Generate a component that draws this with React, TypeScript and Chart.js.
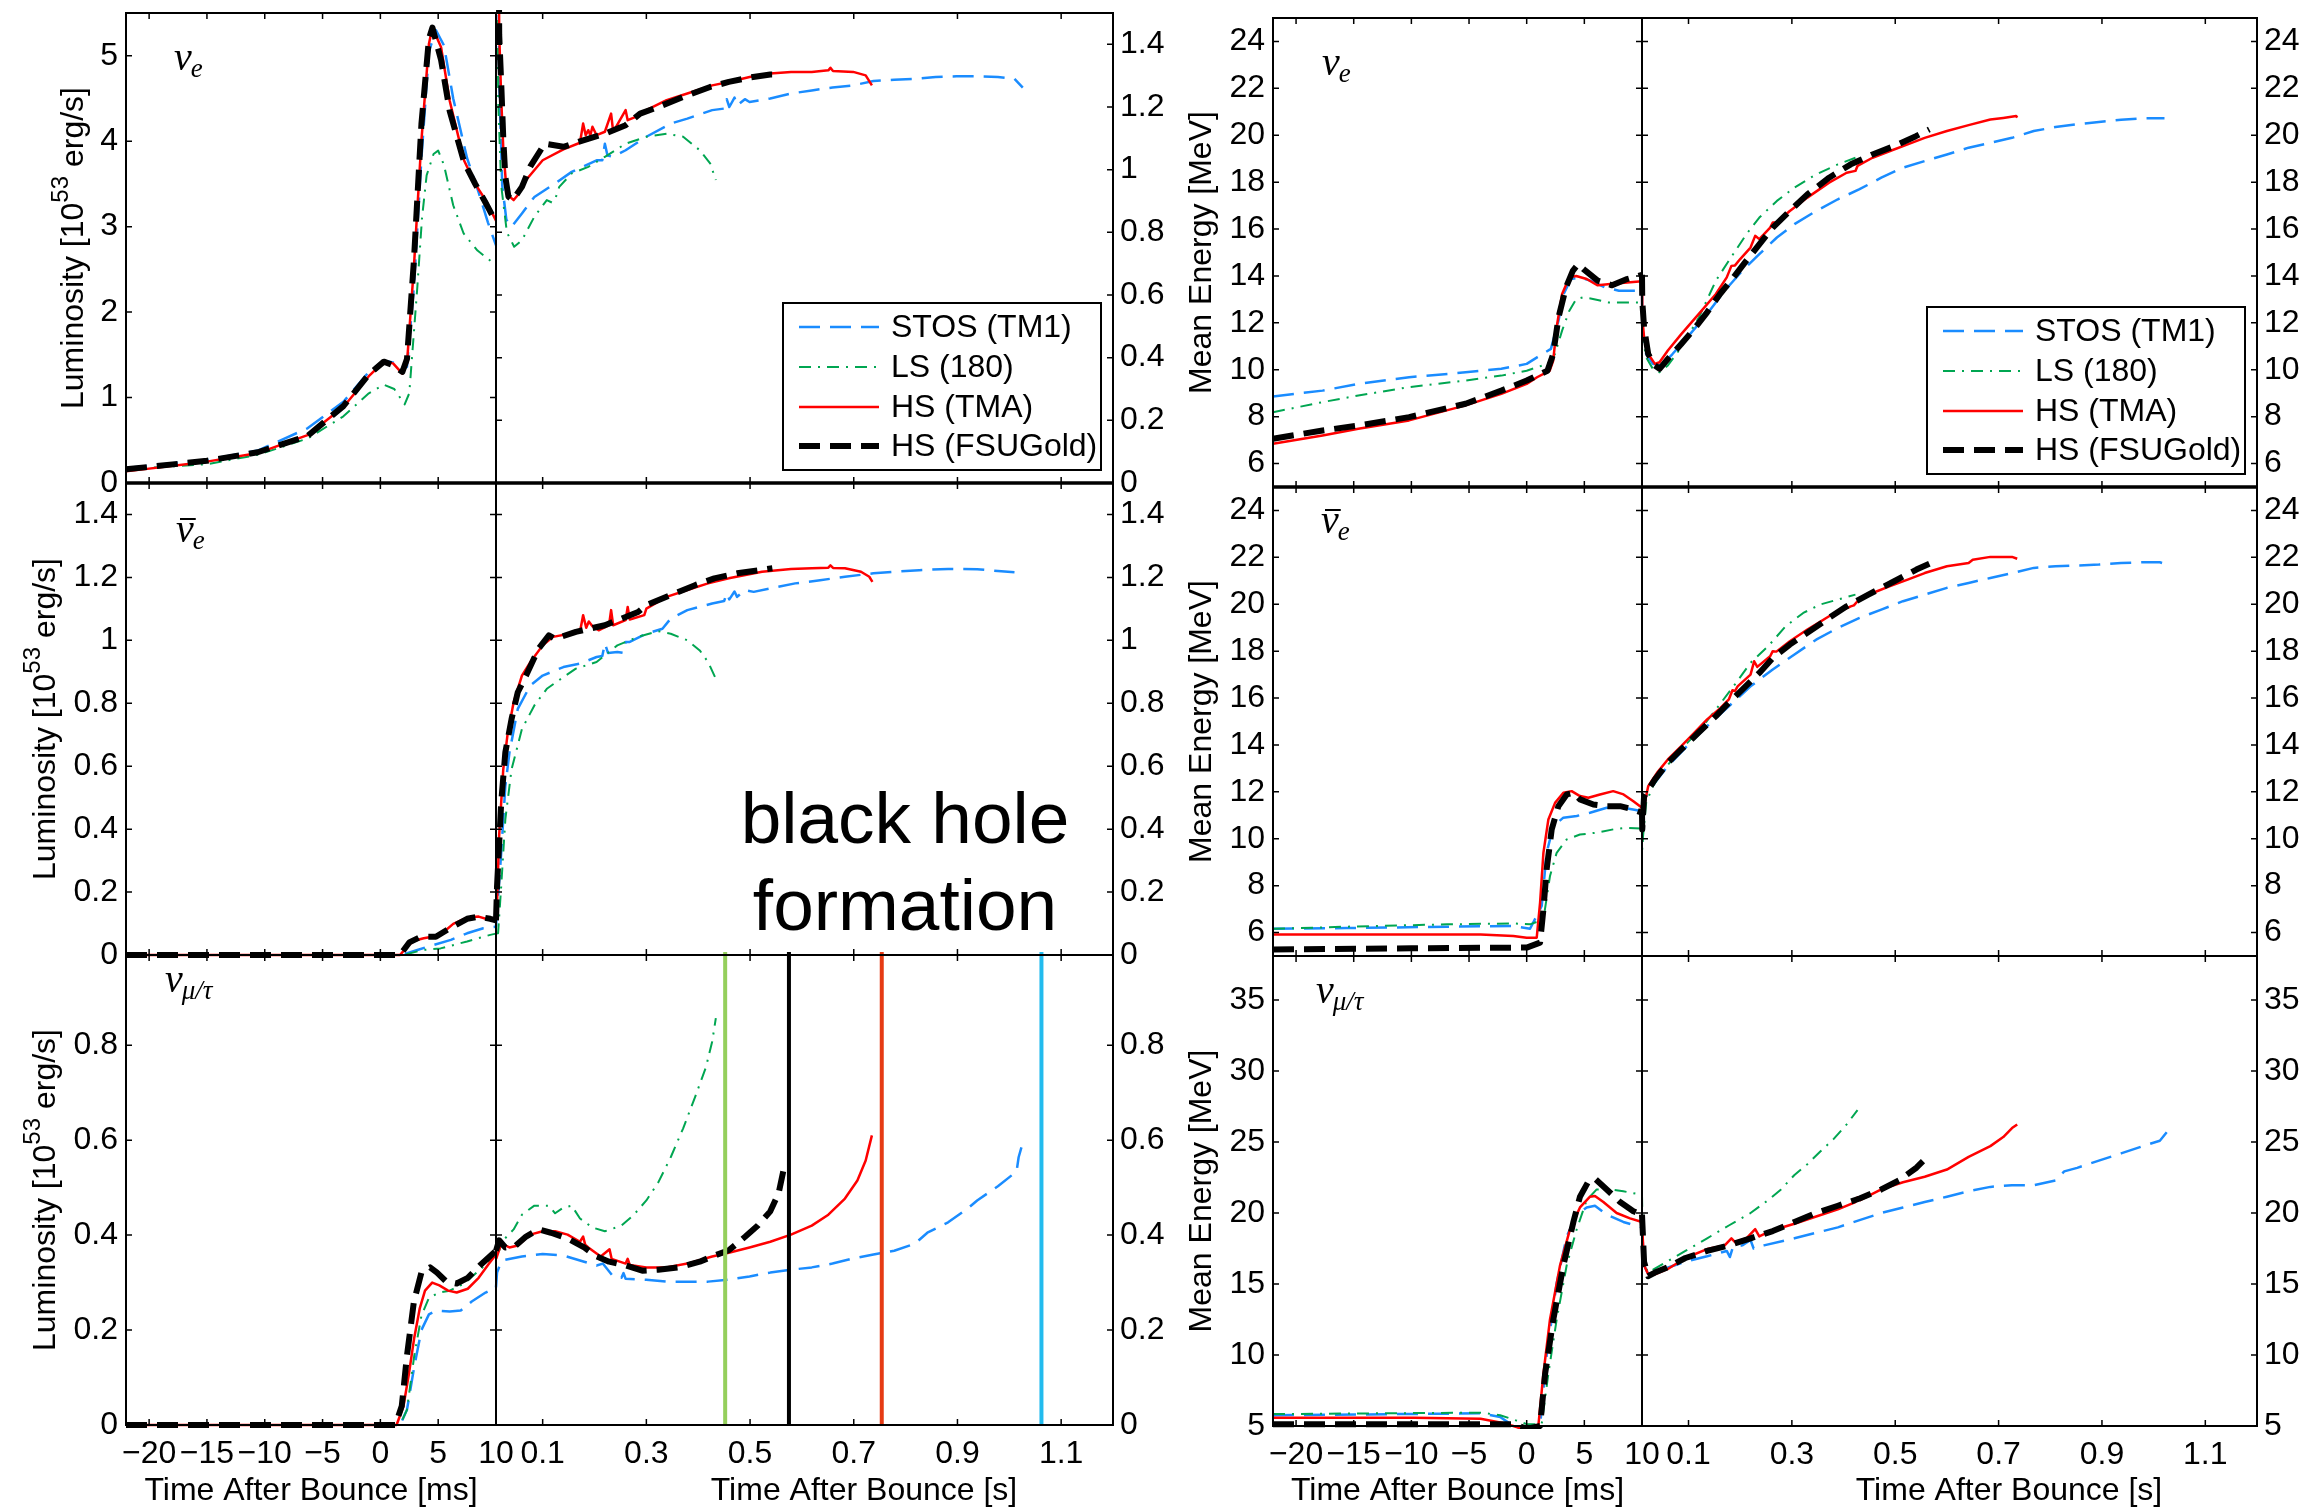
import React, { useEffect, useRef } from "react";
import { Chart, registerables } from "chart.js";
Chart.register(...registerables);

type Pt = [number, number];

// ---------------- series meta ----------------
const seriesLabels = ["STOS (TM1)", "LS (180)", "HS (TMA)", "HS (FSUGold)"];
const seriesColors = ["#1a8cff", "#00a651", "#ff0000", "#000000"];
const seriesWidths = [2.5, 2, 2.5, 6];
const seriesDashes: number[][] = [[21, 10], [12, 7, 2, 7], [], [21, 10]];

// ---------------- tick values ----------------
const msTicks = [-20, -15, -10, -5, 0, 5, 10];
const sTicks = [0.1, 0.3, 0.5, 0.7, 0.9, 1.1];
const lumTicksTop = [0, 1, 2, 3, 4, 5];
const lumTicks = [0, 0.2, 0.4, 0.6, 0.8, 1, 1.2, 1.4];
const lumTicksLow = [0, 0.2, 0.4, 0.6, 0.8];
const energyTicks = [6, 8, 10, 12, 14, 16, 18, 20, 22, 24];
const energyTicksLow = [5, 10, 15, 20, 25, 30, 35];

// black hole formation times [s] and colours
const bhTimes = [0.452, 0.575, 0.754, 1.062];
const bhColors = ["#95cf5c", "#000000", "#e63b14", "#22bbee"];

// ---------------- nu_e luminosity ----------------
const lumNueMsSTOS: Pt[] = [[-22,0.175],[-15,0.27],[-10.6,0.38],[-6.3,0.64],[-3.2,0.95],[-1,1.3],[0.3,1.43],[1.1,1.41],[1.9,1.33],[2.3,1.36],[2.9,2.3],[3.55,3.8],[4.2,5.05],[4.8,5.3],[5.5,5.12],[6.3,4.5],[7.5,3.8],[8.5,3.4],[9.3,3.05],[10,2.78]];
const lumNueMsLS: Pt[] = [[-22,0.16],[-15,0.22],[-10.6,0.33],[-6.3,0.52],[-3.2,0.78],[-1,1.05],[0.3,1.15],[1.2,1.1],[2.1,0.92],[2.5,1.05],[3.2,2.3],[3.6,3.1],[4,3.6],[4.6,3.85],[5,3.89],[5.5,3.72],[6.3,3.25],[7.2,2.92],[8.4,2.72],[10,2.55]];
const lumNueMsTMA: Pt[] = [[-22,0.136],[-15,0.25],[-10.6,0.35],[-6.3,0.56],[-3.2,0.89],[-1,1.25],[0.3,1.42],[1.1,1.4],[1.9,1.28],[2.3,1.4],[2.9,2.53],[3.55,4.01],[4.2,5.14],[4.5,5.33],[5.25,5.1],[6,4.47],[7.25,3.77],[8.2,3.5],[9.1,3.31],[10,3.07]];
const lumNueMsFSU: Pt[] = [[-22,0.16],[-15,0.26],[-10.6,0.36],[-6.3,0.55],[-3.2,0.9],[-1,1.27],[0.3,1.42],[1.1,1.38],[1.9,1.3],[2.3,1.45],[2.9,2.6],[3.55,4.2],[4.2,5.2],[4.5,5.33],[5.25,4.95],[6,4.35],[7.25,3.75],[8.2,3.5],[9.1,3.28],[10,3.05]];

const lumNueSSTOS: Pt[] = [[0.01,2.78],[0.016,1.3],[0.022,0.95],[0.03,0.84],[0.04,0.818],[0.06,0.86],[0.084,0.913],[0.124,0.956],[0.156,0.993],[0.204,1.03],[0.215,1.03],[0.22,1.083],[0.225,1.045],[0.236,1.041],[0.26,1.062],[0.3,1.105],[0.347,1.147],[0.379,1.163],[0.427,1.19],[0.45,1.195],[0.455,1.225],[0.46,1.2],[0.47,1.23],[0.475,1.205],[0.49,1.225],[0.499,1.216],[0.539,1.227],[0.579,1.243],[0.619,1.253],[0.659,1.262],[0.699,1.269],[0.738,1.283],[0.778,1.287],[0.818,1.29],[0.858,1.296],[0.898,1.298],[0.938,1.298],[0.978,1.296],[1.01,1.29],[1.026,1.262]];
const lumNueSLS: Pt[] = [[0.01,2.55],[0.0142,1.22],[0.02,0.95],[0.031,0.8],[0.045,0.754],[0.06,0.775],[0.084,0.85],[0.108,0.903],[0.118,0.895],[0.125,0.91],[0.132,0.945],[0.156,0.988],[0.188,1.009],[0.22,1.041],[0.26,1.083],[0.3,1.105],[0.339,1.115],[0.371,1.105],[0.403,1.062],[0.423,1.02],[0.434,0.967]];
const lumNueSTMA: Pt[] = [[0.01,3.07],[0.0162,1.434],[0.0202,1.222],[0.0242,1.062],[0.0298,0.945],[0.0362,0.914],[0.0441,0.903],[0.0521,0.919],[0.068,0.967],[0.1,1.03],[0.14,1.065],[0.172,1.086],[0.178,1.147],[0.183,1.11],[0.188,1.126],[0.192,1.11],[0.196,1.137],[0.204,1.11],[0.22,1.121],[0.232,1.179],[0.236,1.121],[0.26,1.19],[0.264,1.158],[0.288,1.174],[0.3,1.19],[0.339,1.222],[0.379,1.243],[0.427,1.269],[0.459,1.28],[0.499,1.296],[0.539,1.307],[0.579,1.312],[0.619,1.312],[0.651,1.317],[0.655,1.325],[0.66,1.315],[0.699,1.312],[0.723,1.301],[0.735,1.269]];
const lumNueSFSU: Pt[] = [[0.01,3.05],[0.0162,1.43],[0.0202,1.27],[0.0242,1.094],[0.028,0.977],[0.034,0.914],[0.0425,0.903],[0.06,0.945],[0.076,1.01],[0.104,1.083],[0.14,1.073],[0.172,1.09],[0.22,1.115],[0.26,1.142],[0.288,1.179],[0.323,1.2],[0.371,1.232],[0.423,1.264],[0.459,1.28],[0.499,1.294],[0.539,1.304],[0.556,1.304]];

// ---------------- anti nu_e luminosity ----------------
const lumNuebMsSTOS: Pt[] = [[-22,0],[1.8,0],[3.2,0.016],[4.6,0.032],[6.1,0.048],[7.5,0.069],[8.9,0.085],[10,0.09]];
const lumNuebMsLS: Pt[] = [[-22,0],[2,0],[3.7,0.016],[5.2,0.021],[7.5,0.043],[9.5,0.064],[10,0.068]];
const lumNuebMsTMA: Pt[] = [[-22,0],[1.7,0],[2.45,0.032],[3,0.046],[3.75,0.053],[4.6,0.059],[5.5,0.074],[6.3,0.099],[7.5,0.119],[8.5,0.122],[9.4,0.112],[10,0.112]];
const lumNuebMsFSU: Pt[] = [[-22,0],[1.7,0],[2.5,0.04],[3.5,0.058],[4.8,0.058],[6,0.085],[7.5,0.115],[8.5,0.122],[9.5,0.115],[10,0.11]];

const lumNuebSSTOS: Pt[] = [[0.01,0.09],[0.02,0.324],[0.028,0.537],[0.036,0.644],[0.052,0.782],[0.076,0.856],[0.1,0.888],[0.14,0.915],[0.172,0.926],[0.204,0.947],[0.215,0.95],[0.22,0.99],[0.226,0.96],[0.244,0.963],[0.255,0.96],[0.26,0.995],[0.268,0.995],[0.3,1.021],[0.331,1.037],[0.347,1.069],[0.379,1.096],[0.427,1.117],[0.45,1.125],[0.455,1.15],[0.46,1.13],[0.47,1.155],[0.475,1.138],[0.49,1.16],[0.507,1.154],[0.539,1.165],[0.587,1.181],[0.635,1.191],[0.683,1.202],[0.738,1.213],[0.778,1.218],[0.826,1.223],[0.882,1.227],[0.938,1.226],[0.978,1.22],[1.01,1.216]];
const lumNuebSLS: Pt[] = [[0.01,0.068],[0.014,0.069],[0.02,0.218],[0.028,0.431],[0.04,0.59],[0.06,0.718],[0.084,0.793],[0.108,0.846],[0.14,0.883],[0.164,0.91],[0.204,0.931],[0.244,0.984],[0.284,1.011],[0.323,1.029],[0.347,1.021],[0.379,1.0],[0.403,0.968],[0.419,0.931],[0.434,0.878]];
const lumNuebSTMA: Pt[] = [[0.01,0.112],[0.012,0.165],[0.016,0.378],[0.024,0.59],[0.032,0.697],[0.044,0.803],[0.06,0.888],[0.076,0.93],[0.1,0.984],[0.12,1.011],[0.172,1.027],[0.178,1.08],[0.184,1.04],[0.189,1.06],[0.196,1.045],[0.208,1.032],[0.228,1.048],[0.232,1.096],[0.236,1.048],[0.26,1.064],[0.264,1.106],[0.268,1.066],[0.296,1.08],[0.3,1.101],[0.339,1.138],[0.379,1.16],[0.419,1.181],[0.459,1.197],[0.523,1.218],[0.579,1.227],[0.619,1.229],[0.651,1.231],[0.655,1.238],[0.66,1.23],[0.683,1.229],[0.714,1.218],[0.73,1.202],[0.736,1.186]];
const lumNuebSFSU: Pt[] = [[0.01,0.11],[0.012,0.218],[0.02,0.484],[0.028,0.644],[0.04,0.75],[0.052,0.835],[0.068,0.888],[0.092,0.973],[0.112,1.016],[0.124,1.005],[0.164,1.027],[0.22,1.048],[0.284,1.09],[0.3,1.112],[0.347,1.144],[0.395,1.176],[0.431,1.197],[0.475,1.213],[0.543,1.229]];

// ---------------- nu_mu/tau luminosity ----------------
const lumNuxMsSTOS: Pt[] = [[-22,0],[1.7,0],[2.3,0.032],[2.93,0.123],[3.55,0.2],[4.2,0.233],[4.8,0.241],[6,0.239],[6.95,0.241],[7.9,0.26],[9.1,0.279],[10,0.29]];
const lumNuxMsLS: Pt[] = [[-22,0],[1.7,0],[2.3,0.032],[2.93,0.146],[3.55,0.23],[4.2,0.268],[5.1,0.279],[6,0.283],[7.25,0.298],[8.5,0.325],[9.4,0.344],[10,0.359]];
const lumNuxMsTMA: Pt[] = [[-22,0],[1.4,0],[2,0.04],[2.47,0.108],[2.93,0.184],[3.4,0.245],[3.86,0.283],[4.48,0.3],[5.1,0.294],[5.86,0.283],[6.6,0.279],[7.56,0.287],[8.5,0.31],[9.4,0.34],[10,0.359]];
const lumNuxMsFSU: Pt[] = [[-22,0],[1.3,0],[1.85,0.04],[2.3,0.146],[2.9,0.26],[3.55,0.321],[4.3,0.332],[4.9,0.321],[5.7,0.302],[6.6,0.298],[7.56,0.31],[8.6,0.336],[10,0.367]];

const lumNuxSSTOS: Pt[] = [[0.01,0.29],[0.012,0.321],[0.02,0.344],[0.028,0.348],[0.06,0.355],[0.1,0.36],[0.14,0.357],[0.18,0.344],[0.204,0.336],[0.216,0.34],[0.236,0.313],[0.252,0.31],[0.256,0.32],[0.26,0.308],[0.3,0.306],[0.339,0.302],[0.379,0.302],[0.419,0.302],[0.459,0.306],[0.499,0.313],[0.539,0.321],[0.579,0.327],[0.619,0.332],[0.659,0.34],[0.699,0.351],[0.738,0.359],[0.778,0.367],[0.818,0.382],[0.842,0.405],[0.882,0.427],[0.922,0.458],[0.938,0.473],[0.978,0.503],[1.014,0.534],[1.018,0.564],[1.026,0.595]];
const lumNuxSLS: Pt[] = [[0.01,0.359],[0.016,0.367],[0.024,0.389],[0.044,0.412],[0.06,0.443],[0.084,0.462],[0.112,0.462],[0.124,0.446],[0.14,0.458],[0.156,0.462],[0.172,0.435],[0.196,0.416],[0.22,0.408],[0.252,0.42],[0.276,0.443],[0.3,0.473],[0.323,0.511],[0.347,0.564],[0.371,0.625],[0.395,0.694],[0.415,0.754],[0.427,0.808],[0.434,0.857]];
const lumNuxSTMA: Pt[] = [[0.01,0.359],[0.0106,0.351],[0.02,0.382],[0.036,0.374],[0.052,0.378],[0.076,0.401],[0.1,0.408],[0.124,0.408],[0.148,0.401],[0.172,0.386],[0.178,0.397],[0.182,0.38],[0.188,0.374],[0.212,0.355],[0.229,0.37],[0.233,0.35],[0.26,0.34],[0.264,0.35],[0.268,0.337],[0.3,0.332],[0.339,0.332],[0.379,0.34],[0.427,0.355],[0.459,0.363],[0.499,0.374],[0.539,0.386],[0.579,0.401],[0.619,0.42],[0.651,0.443],[0.683,0.477],[0.707,0.515],[0.723,0.557],[0.735,0.61]];
const lumNuxSFSU: Pt[] = [[0.01,0.367],[0.016,0.389],[0.028,0.374],[0.048,0.378],[0.068,0.397],[0.092,0.412],[0.116,0.405],[0.148,0.393],[0.18,0.374],[0.204,0.355],[0.228,0.344],[0.26,0.336],[0.292,0.325],[0.323,0.327],[0.363,0.332],[0.403,0.344],[0.427,0.355],[0.459,0.368],[0.491,0.397],[0.515,0.42],[0.539,0.45],[0.555,0.488],[0.564,0.534]];

// ---------------- nu_e mean energy ----------------
const eNueMsSTOS: Pt[] = [[-22,8.86],[-17.7,9.11],[-14.6,9.4],[-10.2,9.68],[-5.3,9.89],[-2.2,10.04],[0,10.25],[0.9,10.53],[2.1,10.89],[2.76,12.09],[3.2,13.23],[3.84,13.87],[4.6,13.94],[5.54,13.8],[6.78,13.51],[8,13.37],[10,13.37]];
const eNueMsLS: Pt[] = [[-22,8.19],[-17.7,8.62],[-14.6,8.9],[-10.2,9.26],[-5.3,9.54],[-2.2,9.75],[0,9.96],[1.8,10.25],[2.45,10.67],[3.07,11.67],[3.7,12.52],[4.3,13.01],[4.9,13.09],[5.85,13.01],[7.1,12.87],[10,12.87]];
const eNueMsTMA: Pt[] = [[-22,6.84],[-17.7,7.2],[-14.6,7.48],[-10.2,7.84],[-5.3,8.48],[-2.2,8.97],[0,9.4],[0.9,9.68],[2,9.96],[2.3,10.39],[2.6,11.81],[3.07,13.23],[3.7,13.94],[4.3,14],[5.2,13.87],[6.16,13.6],[7.7,13.68],[10,13.77]];
const eNueMsFSU: Pt[] = [[-22,7.06],[-17.7,7.41],[-14.6,7.62],[-10.2,7.98],[-5.3,8.55],[-2.2,9.11],[0,9.54],[1.8,9.96],[2.3,10.67],[2.76,12.23],[3.4,13.51],[4,14.22],[4.46,14.5],[4.9,14.3],[6.16,13.8],[7.4,13.6],[8.6,13.85],[10,14.05]];

const eNueSSTOS: Pt[] = [[0.01,13.37],[0.0105,11.81],[0.018,10.67],[0.031,10.25],[0.048,10.18],[0.069,10.67],[0.103,11.52],[0.136,12.38],[0.17,13.37],[0.204,14.22],[0.237,14.93],[0.271,15.64],[0.305,16.21],[0.347,16.77],[0.389,17.27],[0.431,17.7],[0.473,18.19],[0.515,18.62],[0.557,18.9],[0.6,19.18],[0.642,19.47],[0.684,19.68],[0.726,19.89],[0.768,20.18],[0.81,20.35],[0.852,20.47],[0.894,20.57],[0.937,20.66],[0.979,20.72],[1.021,20.72]];
const eNueSLS: Pt[] = [[0.01,12.87],[0.0105,11.52],[0.018,10.53],[0.031,10.04],[0.044,9.89],[0.06,10.18],[0.086,10.96],[0.12,12.23],[0.153,13.8],[0.178,14.65],[0.212,15.78],[0.237,16.49],[0.271,17.2],[0.305,17.77],[0.347,18.33],[0.389,18.76],[0.423,19.04]];
const eNueSTMA: Pt[] = [[0.01,13.77],[0.0105,12.23],[0.014,11.38],[0.022,10.67],[0.035,10.25],[0.044,10.32],[0.06,10.82],[0.086,11.52],[0.12,12.38],[0.153,13.23],[0.174,13.94],[0.183,14.43],[0.19,14.45],[0.2,14.72],[0.22,15.21],[0.229,15.71],[0.237,15.57],[0.258,16.06],[0.263,16.28],[0.27,16.28],[0.296,16.77],[0.33,17.34],[0.372,17.98],[0.406,18.4],[0.423,18.48],[0.427,18.69],[0.456,19.04],[0.49,19.33],[0.524,19.61],[0.557,19.89],[0.6,20.18],[0.642,20.43],[0.684,20.67],[0.709,20.74],[0.734,20.82],[0.736,20.75]];
const eNueSFSU: Pt[] = [[0.01,14.05],[0.0105,12.94],[0.014,11.81],[0.022,10.67],[0.035,10.18],[0.044,10.04],[0.06,10.46],[0.086,11.1],[0.111,11.74],[0.136,12.45],[0.161,13.23],[0.187,13.94],[0.212,14.65],[0.237,15.35],[0.263,16.06],[0.296,16.77],[0.33,17.48],[0.372,18.19],[0.414,18.76],[0.456,19.18],[0.498,19.54],[0.54,19.96],[0.566,20.25]];

// ---------------- anti nu_e mean energy ----------------
const eNuebMsSTOS: Pt[] = [[-22,6.16],[-15.6,6.19],[-6.9,6.25],[-1.16,6.28],[0.29,6.16],[1.3,7.13],[1.73,9.4],[2.31,10.54],[3.18,10.9],[4.34,10.97],[5.49,11.11],[6.94,11.32],[8.38,11.32],[10,11.18]];
const eNuebMsLS: Pt[] = [[-22,6.16],[-15.6,6.25],[-6.9,6.35],[-1.16,6.39],[0.29,6.35],[1.45,6.56],[2.02,8.41],[2.6,9.4],[3.47,9.97],[4.62,10.18],[6.07,10.26],[7.51,10.4],[8.67,10.47],[10,10.43]];
const eNuebMsTMA: Pt[] = [[-22,5.92],[-9.8,5.92],[-4,5.92],[-1.16,5.85],[0,5.78],[0.87,5.78],[1.16,7.27],[1.45,9.4],[1.88,10.82],[2.46,11.53],[3.18,11.96],[3.9,12.03],[4.62,11.82],[5.35,11.75],[6.36,11.89],[7.5,12.03],[8.4,11.89],[9.25,11.6],[10,11.32]];
const eNuebMsFSU: Pt[] = [[-22,5.28],[-10,5.33],[0,5.36],[0.23,5.4],[1.16,5.57],[1.45,6.99],[1.73,8.69],[2.17,10.4],[2.75,11.39],[3.47,11.89],[4.05,11.96],[4.62,11.68],[5.78,11.46],[6.94,11.39],[8.1,11.39],[9.25,11.25],[10,11.11]];

const eNuebSSTOS: Pt[] = [[0.01,11.18],[0.0105,11.11],[0.018,11.82],[0.035,12.39],[0.06,13.1],[0.094,13.88],[0.136,14.8],[0.178,15.65],[0.22,16.5],[0.263,17.22],[0.305,17.86],[0.347,18.49],[0.389,18.99],[0.431,19.42],[0.473,19.77],[0.515,20.13],[0.557,20.41],[0.6,20.7],[0.642,20.91],[0.684,21.12],[0.726,21.33],[0.768,21.55],[0.81,21.62],[0.852,21.65],[0.894,21.69],[0.937,21.76],[0.979,21.79],[1.012,21.79],[1.021,21.73]];
const eNuebSLS: Pt[] = [[0.01,10.43],[0.0105,9.55],[0.012,10.11],[0.018,11.53],[0.031,12.24],[0.052,12.95],[0.086,13.81],[0.128,14.8],[0.153,15.51],[0.187,16.5],[0.22,17.5],[0.254,18.21],[0.288,19.06],[0.322,19.63],[0.355,19.99],[0.389,20.2],[0.423,20.41]];
const eNuebSTMA: Pt[] = [[0.01,11.32],[0.0105,10.82],[0.014,11.39],[0.022,12.24],[0.039,12.81],[0.06,13.38],[0.086,13.95],[0.111,14.52],[0.136,15.09],[0.162,15.58],[0.178,15.94],[0.185,16.33],[0.19,16.3],[0.195,16.5],[0.22,17],[0.227,17.57],[0.233,17.33],[0.258,17.78],[0.263,18],[0.27,17.98],[0.296,18.42],[0.33,18.92],[0.372,19.49],[0.414,19.91],[0.42,19.95],[0.427,20.13],[0.456,20.48],[0.49,20.77],[0.524,21.05],[0.557,21.33],[0.6,21.62],[0.642,21.76],[0.65,21.9],[0.684,22.02],[0.726,22.02],[0.736,21.94]];
const eNuebSFSU: Pt[] = [[0.01,11.11],[0.0105,10.4],[0.014,11.82],[0.035,12.53],[0.06,13.24],[0.086,13.81],[0.119,14.52],[0.153,15.23],[0.178,15.8],[0.204,16.36],[0.237,17.07],[0.263,17.71],[0.296,18.28],[0.33,18.78],[0.372,19.42],[0.406,19.91],[0.448,20.41],[0.498,20.98],[0.541,21.48],[0.566,21.73]];

// ---------------- nu_mu/tau mean energy ----------------
const eNuxMsSTOS: Pt[] = [[-22,5.76],[-4,5.89],[-2.3,5.64],[-1.16,5],[0,4.7],[1.16,5],[1.73,9.96],[2.6,15.05],[3.47,18.35],[4.34,19.88],[5.2,20.39],[5.92,20.51],[6.94,19.88],[8.38,19.37],[10,18.99]];
const eNuxMsLS: Pt[] = [[-22,5.84],[-4,5.94],[-2.3,5.76],[-0.87,5.38],[0,5.13],[1.3,5.13],[1.88,8.69],[2.6,12.5],[3.47,16.32],[4.34,18.86],[5.2,20.9],[6.07,21.66],[7.23,21.66],[8.38,21.53],[10,21.28]];
const eNuxMsTMA: Pt[] = [[-22,5.58],[-9.8,5.58],[-4,5.51],[-2.3,5.25],[-1.16,5],[0,4.7],[0.9,4.7],[1.01,5],[1.45,8.69],[2.02,12.5],[2.89,16.3],[3.76,18.86],[4.62,20.39],[5.49,21.15],[5.92,21.2],[6.65,20.77],[7.8,20],[8.96,19.62],[10,19.37]];
const eNuxMsFSU: Pt[] = [[-22,5.13],[-1.16,5.13],[0,4.8],[1.16,5],[1.6,8.69],[2.31,12.5],[3.18,16.3],[4.05,19.37],[4.62,21.15],[5.35,22.22],[5.92,22.42],[6.94,21.66],[8.1,20.77],[9.25,20.13],[10,19.88]];

const eNuxSSTOS: Pt[] = [[0.01,18.99],[0.014,16.32],[0.022,15.68],[0.052,16.06],[0.094,16.57],[0.136,16.95],[0.174,17.33],[0.18,16.9],[0.186,17.6],[0.204,17.72],[0.22,18.1],[0.226,17.5],[0.246,17.72],[0.305,18.22],[0.347,18.61],[0.389,18.99],[0.431,19.5],[0.473,20],[0.515,20.39],[0.557,20.77],[0.6,21.15],[0.642,21.53],[0.684,21.84],[0.726,21.96],[0.768,21.96],[0.81,22.29],[0.827,22.93],[0.852,23.18],[0.894,23.69],[0.937,24.2],[0.979,24.71],[1.012,25.09],[1.029,25.85]];
const eNuxSLS: Pt[] = [[0.01,21.28],[0.012,16.57],[0.022,15.81],[0.052,16.44],[0.094,17.33],[0.136,18.22],[0.178,19.12],[0.22,20],[0.254,20.9],[0.279,21.66],[0.305,22.68],[0.33,23.44],[0.355,24.33],[0.381,25.22],[0.406,26.24],[0.427,27.25]];
const eNuxSTMA: Pt[] = [[0.01,19.37],[0.014,16.32],[0.022,15.68],[0.035,15.68],[0.06,16.06],[0.094,16.83],[0.136,17.46],[0.17,17.72],[0.183,18.22],[0.19,17.95],[0.212,18.22],[0.229,18.86],[0.237,18.35],[0.258,18.73],[0.305,19.24],[0.347,19.75],[0.389,20.26],[0.423,20.77],[0.427,21.1],[0.432,20.9],[0.473,21.66],[0.515,22.17],[0.557,22.55],[0.6,23.06],[0.642,23.95],[0.684,24.71],[0.709,25.35],[0.726,25.98],[0.736,26.24]];
const eNuxSFSU: Pt[] = [[0.01,19.88],[0.014,16.57],[0.022,15.55],[0.035,15.81],[0.06,16.19],[0.094,16.83],[0.136,17.33],[0.178,17.72],[0.22,18.22],[0.263,18.73],[0.305,19.37],[0.347,20],[0.389,20.51],[0.431,21.02],[0.473,21.66],[0.507,22.29],[0.541,23.19],[0.562,23.95]];

// ---------------- layout ----------------
const FONT = '"Liberation Sans", Arial, Helvetica, sans-serif';
const SERIF = '"Liberation Serif", "DejaVu Serif", "Times New Roman", serif';
const PAD_SIDE = 30;
const PAD_T = 30;
const X_AXIS_H = 95;

type TitlePart = { t: string; sup?: boolean };
const lumTitle: TitlePart[] = [{ t: "Luminosity [10" }, { t: "53", sup: true }, { t: " erg/s]" }];
const energyTitle: TitlePart[] = [{ t: "Mean Energy [MeV]" }];

interface Panel {
  key: string;
  plot: { l: number; t: number; r: number; b: number };
  side: 0 | 1;
  row: number;
  bottom: boolean;
  yMin: number;
  yMax: number;
  yTicks: number[];
  yW: number;
  series: Pt[][];
  nu?: { sub: string; bar?: boolean; x: number; y: number };
  yTitle?: { parts: TitlePart[]; cx: number };
  xTitle?: { text: string; cx: number };
  legend?: boolean;
  bh?: boolean;
  bigText?: boolean;
}

const GL = [126, 496, 1113];
const GR = [1273, 1642, 2257];
const RL = [13, 483, 955, 1425];
const RR = [18, 487, 956, 1426];

const PANELS: Panel[] = [
  { key: "L1a", row: 0, plot: { l: GL[0], t: RL[0], r: GL[1], b: RL[1] }, side: 0, bottom: false, yMin: 0, yMax: 5.5, yTicks: lumTicksTop, yW: 126,
    series: [lumNueMsSTOS, lumNueMsLS, lumNueMsTMA, lumNueMsFSU], nu: { sub: "e", x: 174, y: 70 }, yTitle: { parts: lumTitle, cx: 71 } },
  { key: "L1b", row: 0, plot: { l: GL[1], t: RL[0], r: GL[2], b: RL[1] }, side: 1, bottom: false, yMin: 0, yMax: 1.5, yTicks: lumTicks, yW: 90,
    series: [lumNueSSTOS, lumNueSLS, lumNueSTMA, lumNueSFSU], legend: true },
  { key: "L2a", row: 1, plot: { l: GL[0], t: RL[1], r: GL[1], b: RL[2] }, side: 0, bottom: false, yMin: 0, yMax: 1.5, yTicks: lumTicks, yW: 126,
    series: [lumNuebMsSTOS, lumNuebMsLS, lumNuebMsTMA, lumNuebMsFSU], nu: { sub: "e", bar: true, x: 176, y: 542 }, yTitle: { parts: lumTitle, cx: 43.5 } },
  { key: "L2b", row: 1, plot: { l: GL[1], t: RL[1], r: GL[2], b: RL[2] }, side: 1, bottom: false, yMin: 0, yMax: 1.5, yTicks: lumTicks, yW: 90,
    series: [lumNuebSSTOS, lumNuebSLS, lumNuebSTMA, lumNuebSFSU], bigText: true },
  { key: "L3a", row: 2, plot: { l: GL[0], t: RL[2], r: GL[1], b: RL[3] }, side: 0, bottom: true, yMin: 0, yMax: 0.99, yTicks: lumTicksLow, yW: 126,
    series: [lumNuxMsSTOS, lumNuxMsLS, lumNuxMsTMA, lumNuxMsFSU], nu: { sub: "μ/τ", x: 165, y: 992 }, yTitle: { parts: lumTitle, cx: 43.5 },
    xTitle: { text: "Time After Bounce [ms]", cx: 311 } },
  { key: "L3b", row: 2, plot: { l: GL[1], t: RL[2], r: GL[2], b: RL[3] }, side: 1, bottom: true, yMin: 0, yMax: 0.99, yTicks: lumTicksLow, yW: 90,
    series: [lumNuxSSTOS, lumNuxSLS, lumNuxSTMA, lumNuxSFSU], bh: true, xTitle: { text: "Time After Bounce [s]", cx: 864 } },

  { key: "R1a", row: 0, plot: { l: GR[0], t: RR[0], r: GR[1], b: RR[1] }, side: 0, bottom: false, yMin: 5, yMax: 25, yTicks: energyTicks, yW: 150,
    series: [eNueMsSTOS, eNueMsLS, eNueMsTMA, eNueMsFSU], nu: { sub: "e", x: 1322, y: 75 }, yTitle: { parts: energyTitle, cx: 1199 } },
  { key: "R1b", row: 0, plot: { l: GR[1], t: RR[0], r: GR[2], b: RR[1] }, side: 1, bottom: false, yMin: 5, yMax: 25, yTicks: energyTicks, yW: 90,
    series: [eNueSSTOS, eNueSLS, eNueSTMA, eNueSFSU], legend: true },
  { key: "R2a", row: 1, plot: { l: GR[0], t: RR[1], r: GR[1], b: RR[2] }, side: 0, bottom: false, yMin: 5, yMax: 25, yTicks: energyTicks, yW: 150,
    series: [eNuebMsSTOS, eNuebMsLS, eNuebMsTMA, eNuebMsFSU], nu: { sub: "e", bar: true, x: 1321, y: 533 }, yTitle: { parts: energyTitle, cx: 1199 } },
  { key: "R2b", row: 1, plot: { l: GR[1], t: RR[1], r: GR[2], b: RR[2] }, side: 1, bottom: false, yMin: 5, yMax: 25, yTicks: energyTicks, yW: 90,
    series: [eNuebSSTOS, eNuebSLS, eNuebSTMA, eNuebSFSU] },
  { key: "R3a", row: 2, plot: { l: GR[0], t: RR[2], r: GR[1], b: RR[3] }, side: 0, bottom: true, yMin: 5, yMax: 38.1, yTicks: energyTicksLow, yW: 150,
    series: [eNuxMsSTOS, eNuxMsLS, eNuxMsTMA, eNuxMsFSU], nu: { sub: "μ/τ", x: 1316, y: 1003 }, yTitle: { parts: energyTitle, cx: 1199 },
    xTitle: { text: "Time After Bounce [ms]", cx: 1457.5 } },
  { key: "R3b", row: 2, plot: { l: GR[1], t: RR[2], r: GR[2], b: RR[3] }, side: 1, bottom: true, yMin: 5, yMax: 38.1, yTicks: energyTicksLow, yW: 90,
    series: [eNuxSSTOS, eNuxSLS, eNuxSTMA, eNuxSFSU], xTitle: { text: "Time After Bounce [s]", cx: 2009 } },
];

function geom(p: Panel) {
  const left = p.side === 0 ? p.plot.l - p.yW : p.plot.l - PAD_SIDE;
  const right = p.side === 0 ? p.plot.r + PAD_SIDE : p.plot.r + p.yW;
  const top = p.plot.t - PAD_T;
  const bottom = p.plot.b + (p.bottom ? X_AXIS_H : 30);
  return { left, top, w: right - left, h: bottom - top };
}

const fmtNum = (v: number) => String(Math.round(v * 1000) / 1000).replace("-", "\u2212");

function decorPlugin(p: Panel) {
  const g = geom(p);
  const xTicks = p.side === 0 ? msTicks : sTicks;
  return {
    id: "decor" + p.key,
    afterDatasetsDraw(chart: any) {
      const { ctx, chartArea: ca, scales } = chart;
      const xs = scales.x, ys = scales.y;
      ctx.save();
      ctx.setLineDash([]);
      ctx.strokeStyle = "#000";
      ctx.lineWidth = 2;
      ctx.strokeRect(ca.left, ca.top, ca.right - ca.left, ca.bottom - ca.top);
      if (p.row === 0) {
        // heavier separator line under the first row
        ctx.lineWidth = 3.5;
        ctx.beginPath();
        ctx.moveTo(ca.left - 1, ca.bottom);
        ctx.lineTo(ca.right + 1, ca.bottom);
        ctx.stroke();
      }
      ctx.lineWidth = 1.5;
      const TL = 6;
      ctx.beginPath();
      for (const v of xTicks) {
        const px = xs.getPixelForValue(v);
        if (px <= ca.left + 1 || px >= ca.right - 1) continue;
        ctx.moveTo(px, ca.bottom); ctx.lineTo(px, ca.bottom - TL);
        ctx.moveTo(px, ca.top); ctx.lineTo(px, ca.top + TL);
      }
      for (const v of p.yTicks) {
        const py = ys.getPixelForValue(v);
        if (py <= ca.top + 1 || py >= ca.bottom - 1) continue;
        ctx.moveTo(ca.left, py); ctx.lineTo(ca.left + TL, py);
        ctx.moveTo(ca.right, py); ctx.lineTo(ca.right - TL, py);
      }
      ctx.stroke();
      ctx.restore();
    },
    afterDraw(chart: any) {
      const { ctx, chartArea: ca } = chart;
      ctx.save();
      ctx.fillStyle = "#000";
      ctx.setLineDash([]);
      // neutrino flavour label
      if (p.nu) {
        const x = p.nu.x - g.left, y = p.nu.y - g.top;
        ctx.textAlign = "left"; ctx.textBaseline = "alphabetic";
        ctx.font = `italic 40px ${SERIF}`;
        ctx.fillText("ν", x, y);
        const w = ctx.measureText("ν").width;
        if (p.nu.bar) {
          ctx.strokeStyle = "#000";
          ctx.lineWidth = 2;
          ctx.beginPath();
          ctx.moveTo(x + 4, y - 23);
          ctx.lineTo(x + w + 2, y - 23);
          ctx.stroke();
        }
        ctx.font = `italic 27px ${SERIF}`;
        ctx.fillText(p.nu.sub, x + w - 1, y + 7);
      }
      // y title
      if (p.yTitle) {
        const parts = p.yTitle.parts;
        const mainF = `32px ${FONT}`, supF = `24px ${FONT}`;
        let total = 0;
        const widths = parts.map((pt) => { ctx.font = pt.sup ? supF : mainF; const w = ctx.measureText(pt.t).width; total += w; return w; });
        ctx.translate(p.yTitle.cx - g.left, (p.plot.t + p.plot.b) / 2 - g.top);
        ctx.rotate(-Math.PI / 2);
        ctx.textAlign = "left"; ctx.textBaseline = "alphabetic";
        let x = -total / 2;
        parts.forEach((pt, i) => {
          ctx.font = pt.sup ? supF : mainF;
          ctx.fillText(pt.t, x, pt.sup ? 11.5 - 15 : 11.5);
          x += widths[i];
        });
        ctx.setTransform(1, 0, 0, 1, 0, 0);
      }
      // x title
      if (p.xTitle) {
        ctx.font = `32px ${FONT}`;
        ctx.textAlign = "center"; ctx.textBaseline = "alphabetic";
        ctx.fillText(p.xTitle.text, p.xTitle.cx - g.left, 1500 - g.top);
      }
      // legend
      if (p.legend) {
        const bw = 318, bh = 167;
        const bx = ca.right - 12 - bw, by = ca.bottom - 13 - bh;
        ctx.fillStyle = "#fff"; ctx.fillRect(bx, by, bw, bh);
        ctx.strokeStyle = "#000"; ctx.lineWidth = 2; ctx.strokeRect(bx, by, bw, bh);
        const rows = [24, 64, 104, 143];
        seriesLabels.forEach((lab, i) => {
          const yy = by + rows[i];
          ctx.setLineDash(seriesDashes[i]);
          ctx.strokeStyle = seriesColors[i];
          ctx.lineWidth = seriesWidths[i];
          ctx.beginPath(); ctx.moveTo(bx + 16, yy); ctx.lineTo(bx + 96, yy); ctx.stroke();
          ctx.setLineDash([]);
          ctx.fillStyle = "#000";
          ctx.font = `32px ${FONT}`;
          ctx.textAlign = "left"; ctx.textBaseline = "middle";
          ctx.fillText(lab, bx + 108, yy + 1);
        });
      }
      if (p.bigText) {
        ctx.fillStyle = "#000";
        ctx.font = `73px ${FONT}`;
        ctx.textAlign = "center"; ctx.textBaseline = "alphabetic";
        ctx.fillText("black hole", 905 - g.left, 843 - g.top);
        ctx.fillText("formation", 905 - g.left, 930 - g.top);
      }
      ctx.restore();
    },
  };
}

function makeChart(canvas: HTMLCanvasElement, p: Panel) {
  const datasets: any[] = p.series.map((pts, i) => ({
    label: seriesLabels[i],
    data: pts.map(([x, y]) => ({ x, y })),
    borderColor: seriesColors[i],
    borderWidth: seriesWidths[i],
    borderDash: seriesDashes[i],
    borderCapStyle: "butt",
    borderJoinStyle: "round",
    pointRadius: 0,
    fill: false,
    tension: 0,
    order: 3 - i,
    clip: 3,
  }));
  if (p.bh) {
    bhTimes.forEach((t, i) => {
      datasets.push({
        label: "BH " + i,
        data: [{ x: t, y: 0 }, { x: t, y: 1.0 }],
        borderColor: bhColors[i],
        borderWidth: 4,
        pointRadius: 0,
        fill: false,
        order: -1,
        clip: 3,
      });
    });
  }
  const xTicks = p.side === 0 ? msTicks : sTicks;
  const xMin = p.side === 0 ? -22 : 0.01;
  const xMax = p.side === 0 ? 10 : 1.2;
  const tickFont = { family: FONT, size: 32 };
  return new Chart(canvas, {
    type: "line",
    data: { datasets },
    options: {
      animation: false,
      responsive: false,
      maintainAspectRatio: false,
      devicePixelRatio: 1,
      events: [],
      layout: {
        padding: {
          left: p.side === 1 ? PAD_SIDE : 0,
          right: p.side === 0 ? PAD_SIDE : 0,
          top: PAD_T,
          bottom: p.bottom ? 0 : 30,
        },
      },
      plugins: { legend: { display: false }, tooltip: { enabled: false }, title: { display: false } },
      scales: {
        x: {
          type: "linear",
          position: "bottom",
          min: xMin,
          max: xMax,
          grid: { display: false, drawTicks: false },
          border: { display: false },
          ticks: {
            display: p.bottom,
            autoSkip: false,
            maxRotation: 0,
            minRotation: 0,
            padding: 10,
            color: "#000",
            font: tickFont,
            callback: (v: any) => (p.side === 0 ? fmtNum(Number(v)) : Number(v).toFixed(1)),
          },
          afterBuildTicks: (a: any) => { a.ticks = xTicks.map((v) => ({ value: v })); },
          afterFit: (a: any) => {
            a.height = p.bottom ? X_AXIS_H : 0;
            a.paddingLeft = 0; a.paddingRight = 0; a.paddingTop = 0; a.paddingBottom = 0;
          },
        },
        y: {
          type: "linear",
          position: p.side === 0 ? "left" : "right",
          min: p.yMin,
          max: p.yMax,
          grid: { display: false, drawTicks: false },
          border: { display: false },
          ticks: {
            display: true,
            autoSkip: false,
            padding: p.side === 0 ? 8 : 7,
            color: "#000",
            font: tickFont,
            callback: (v: any) => fmtNum(Number(v)),
          },
          afterBuildTicks: (a: any) => { a.ticks = p.yTicks.map((v) => ({ value: v })); },
          afterFit: (a: any) => {
            a.width = p.yW;
            a.paddingLeft = 0; a.paddingRight = 0; a.paddingTop = 0; a.paddingBottom = 0;
          },
        },
      },
    } as any,
    plugins: [decorPlugin(p) as any],
  });
}

export default function App() {
  const refs = useRef<(HTMLCanvasElement | null)[]>([]);
  useEffect(() => {
    const charts = PANELS.map((p, i) => makeChart(refs.current[i] as HTMLCanvasElement, p));
    return () => charts.forEach((c) => c.destroy());
  }, []);
  return (
    <div style={{ position: "absolute", left: 0, top: 0, width: 2303, height: 1507, overflow: "hidden", background: "#fff" }}>
      {PANELS.map((p, i) => {
        const g = geom(p);
        return (
          <canvas
            key={p.key}
            ref={(el) => { refs.current[i] = el; }}
            width={g.w}
            height={g.h}
            style={{ position: "absolute", left: g.left, top: g.top, width: g.w, height: g.h }}
          />
        );
      })}
    </div>
  );
}
